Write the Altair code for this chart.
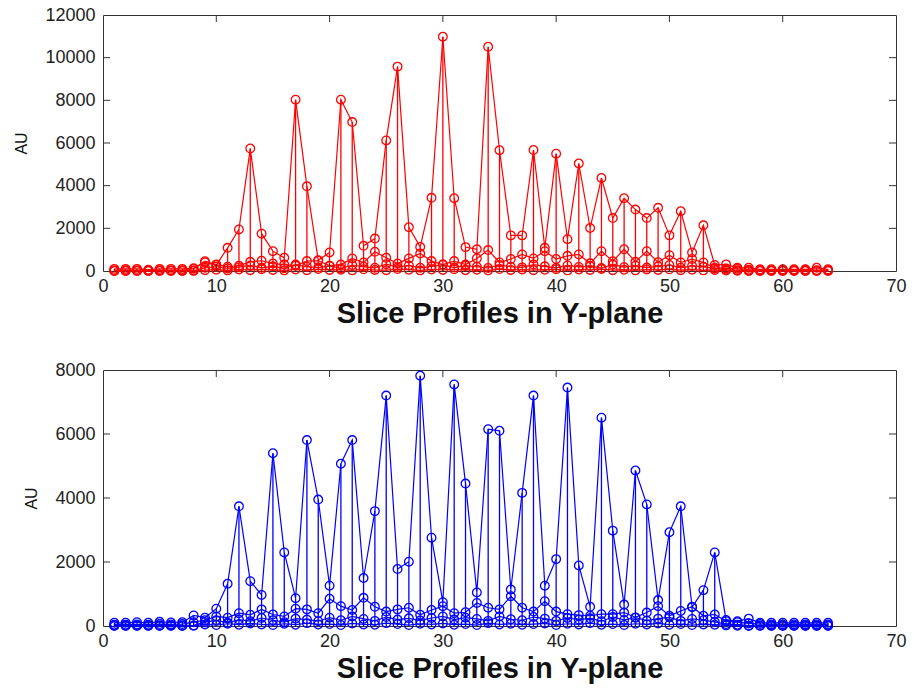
import altair as alt
import pandas as pd

xs = list(range(1, 65))

red_main = [100, 100, 100, 60, 100, 100, 100, 130,
            400, 280, 1085, 1950, 5740, 1750, 930, 620,
            8030, 3970, 500, 870, 8030, 6980, 1180, 1520,
            6120, 9580, 2050, 1130, 3430, 10980, 3410, 1120,
            1020, 10510, 5660, 1670, 1670, 5670, 1085, 5500,
            1490, 5040, 2015, 4360, 2480, 3410, 2880, 2480,
            2960, 1670, 2800, 870, 2140, 280,
            310, 150, 150, 80, 80, 80, 80, 80, 150, 80]
red_low_a = [30, 40, 30, 20, 40, 30, 40, 100,
             460, 300, 200, 250, 430, 480, 350, 300,
             250, 465, 480, 250, 300, 590, 400, 900,
             620, 350, 590, 820, 465, 300, 465, 300,
             590, 980, 400, 560, 775, 590, 930, 560,
             710, 775, 360, 930, 460, 1020, 430, 930,
             410, 740, 400, 560, 400, 150,
             120, 100, 60, 40, 40, 40, 40, 60, 40, 40]
red_low_b = [10, 10, 10, 10, 10, 10, 10, 20,
             150, 200, 120, 180, 260, 150, 220, 130,
             300, 200, 160, 240, 120, 280, 200, 150,
             320, 180, 260, 150, 220, 300, 160, 250,
             200, 140, 280, 200, 170, 300, 220, 150,
             260, 190, 230, 140, 300, 180, 250, 160,
             220, 280, 150, 240, 200, 120,
             60, 30, 10, 10, 10, 10, 10, 10, 10, 10]
red_low_c = [5, 5, 5, 5, 5, 5, 5, 5,
             40, 60, 30, 70, 40, 80, 50, 30,
             70, 40, 90, 50, 60, 30, 80, 50,
             40, 90, 60, 30, 70, 50, 80, 40,
             60, 30, 90, 50, 70, 40, 60, 80,
             30, 70, 50, 90, 40, 60, 30, 70,
             50, 80, 40, 60, 30, 50,
             20, 10, 5, 5, 5, 5, 5, 5, 5, 5]

blue_main = [100, 100, 120, 100, 130, 110, 120, 330,
             260, 540, 1320, 3740, 1400, 970, 5400, 2300,
             870, 5810, 3950, 1260, 5070, 5810, 1500, 3590,
             7200, 1780, 2010, 7820, 2760, 745, 7550, 4450,
             1050, 6150, 6100, 1140, 4160, 7200, 1260, 2090,
             7450, 1890, 600, 6510, 2980, 670, 4860, 3800,
             810, 2930, 3740, 590, 1120, 2300,
             190, 150, 230, 100, 100, 100, 100, 100, 100, 100]
blue_low_a = [40, 40, 50, 40, 60, 50, 60, 120,
              180, 300, 260, 400, 350, 520, 360, 300,
              540, 520, 400, 850, 620, 500, 880, 600,
              450, 520, 570, 350, 500, 620, 400, 430,
              720, 570, 520, 930, 570, 450, 775, 450,
              370, 340, 320, 370, 370, 420, 270, 420,
              620, 320, 470, 600, 320, 360,
              150, 120, 80, 60, 50, 50, 50, 50, 50, 50]
blue_low_b = [10, 10, 10, 10, 10, 10, 10, 20,
              120, 180, 100, 200, 150, 250, 180, 120,
              230, 200, 150, 260, 180, 300, 220, 160,
              280, 200, 240, 170, 250, 300, 200, 260,
              220, 160, 300, 210, 180, 280, 230, 160,
              250, 200, 240, 150, 280, 190, 260, 170,
              230, 270, 160, 220, 180, 130,
              60, 40, 10, 10, 10, 10, 10, 10, 10, 10]
blue_low_c = [5, 5, 5, 5, 5, 5, 5, 5,
              50, 30, 70, 40, 80, 50, 30, 70,
              40, 90, 50, 60, 30, 80, 50, 40,
              90, 60, 30, 70, 50, 80, 40, 60,
              30, 90, 50, 70, 40, 60, 80, 30,
              70, 50, 90, 40, 60, 30, 70, 50,
              80, 40, 60, 30, 50, 40,
              20, 10, 5, 5, 5, 5, 5, 5, 5, 5]

x_ticks = [0, 10, 20, 30, 40, 50, 60, 70]
x_inner_ticks = [10, 20, 30, 40, 50, 60]
red_y_ticks = [0, 2000, 4000, 6000, 8000, 10000, 12000]
blue_y_ticks = [0, 2000, 4000, 6000, 8000]

W, H = 793, 256
FONT = "Liberation Sans"


def panel(main, low_a, low_b, low_c, color, ymax, yticks):
    rows = []
    for name, arr in [("c", low_c), ("b", low_b), ("a", low_a), ("main", main)]:
        for x, v in zip(xs, arr):
            rows.append({"x": x, "val": v, "series": name})
    df = pd.DataFrame(rows)
    dmain = pd.DataFrame({"x": xs, "val": main})

    xenc = alt.X("x:Q", scale=alt.Scale(domain=[0, 70], nice=False, zero=False),
                 axis=alt.Axis(values=x_ticks, title="Slice Profiles in Y-plane",
                               format="d", labelPadding=6, titlePadding=4,
                               titleFontSize=29, titleFontWeight="bold",
                               labelFlush=False))
    yenc = alt.Y("val:Q", scale=alt.Scale(domain=[0, ymax], nice=False),
                 axis=alt.Axis(values=yticks, title="AU", format="d",
                               labelPadding=8, titlePadding=15,
                               titleFontSize=16, titleFontWeight="normal",
                               labelFlush=False))

    stems = alt.Chart(dmain).mark_rule(stroke=color, strokeWidth=1.3).encode(
        x=xenc, y=yenc, y2=alt.datum(0))
    lines = alt.Chart(df).mark_line(stroke=color, strokeWidth=1.2).encode(
        x=xenc, y=yenc, detail="series:N", order="x:Q")
    pts = alt.Chart(df).mark_point(shape="circle", filled=False, stroke=color,
                                   opacity=1, size=75, strokeWidth=1.3).encode(x=xenc, y=yenc)

    # inward ticks on all four sides, positioned by the same scales
    tx = pd.DataFrame({"x": x_inner_ticks})
    ty = pd.DataFrame({"val": [v for v in yticks if 0 < v < ymax]})
    tick_top = alt.Chart(tx).mark_rule(color="#333").encode(
        x=xenc, y=alt.value(0), y2=alt.value(7))
    tick_bot = alt.Chart(tx).mark_rule(color="#333").encode(
        x=xenc, y=alt.value(H), y2=alt.value(H - 7))
    tick_left = alt.Chart(ty).mark_rule(color="#333").encode(
        y=yenc, x=alt.value(0), x2=alt.value(7))
    tick_right = alt.Chart(ty).mark_rule(color="#333").encode(
        y=yenc, x=alt.value(W), x2=alt.value(W - 7))

    return alt.layer(stems, lines, pts, tick_top, tick_bot, tick_left, tick_right).properties(
        width=W, height=H)


top = panel(red_main, red_low_a, red_low_b, red_low_c, "#ff0000", 12000, red_y_ticks)
bottom = panel(blue_main, blue_low_a, blue_low_b, blue_low_c, "#0000ff", 8000, blue_y_ticks)

chart = alt.vconcat(top, bottom, spacing=31).resolve_scale(y="independent").properties(
    padding={"left": 13, "top": 5, "right": 5, "bottom": 5},
    background="white",
).configure_view(stroke="#333", strokeWidth=1).configure_axis(
    domain=False, ticks=False, grid=False,
    labelFont=FONT, labelFontSize=18, labelColor="#222",
    titleFont=FONT, titleColor="#111",
)

chart.save("out.html", embed_options={"renderer": "svg", "actions": False})
